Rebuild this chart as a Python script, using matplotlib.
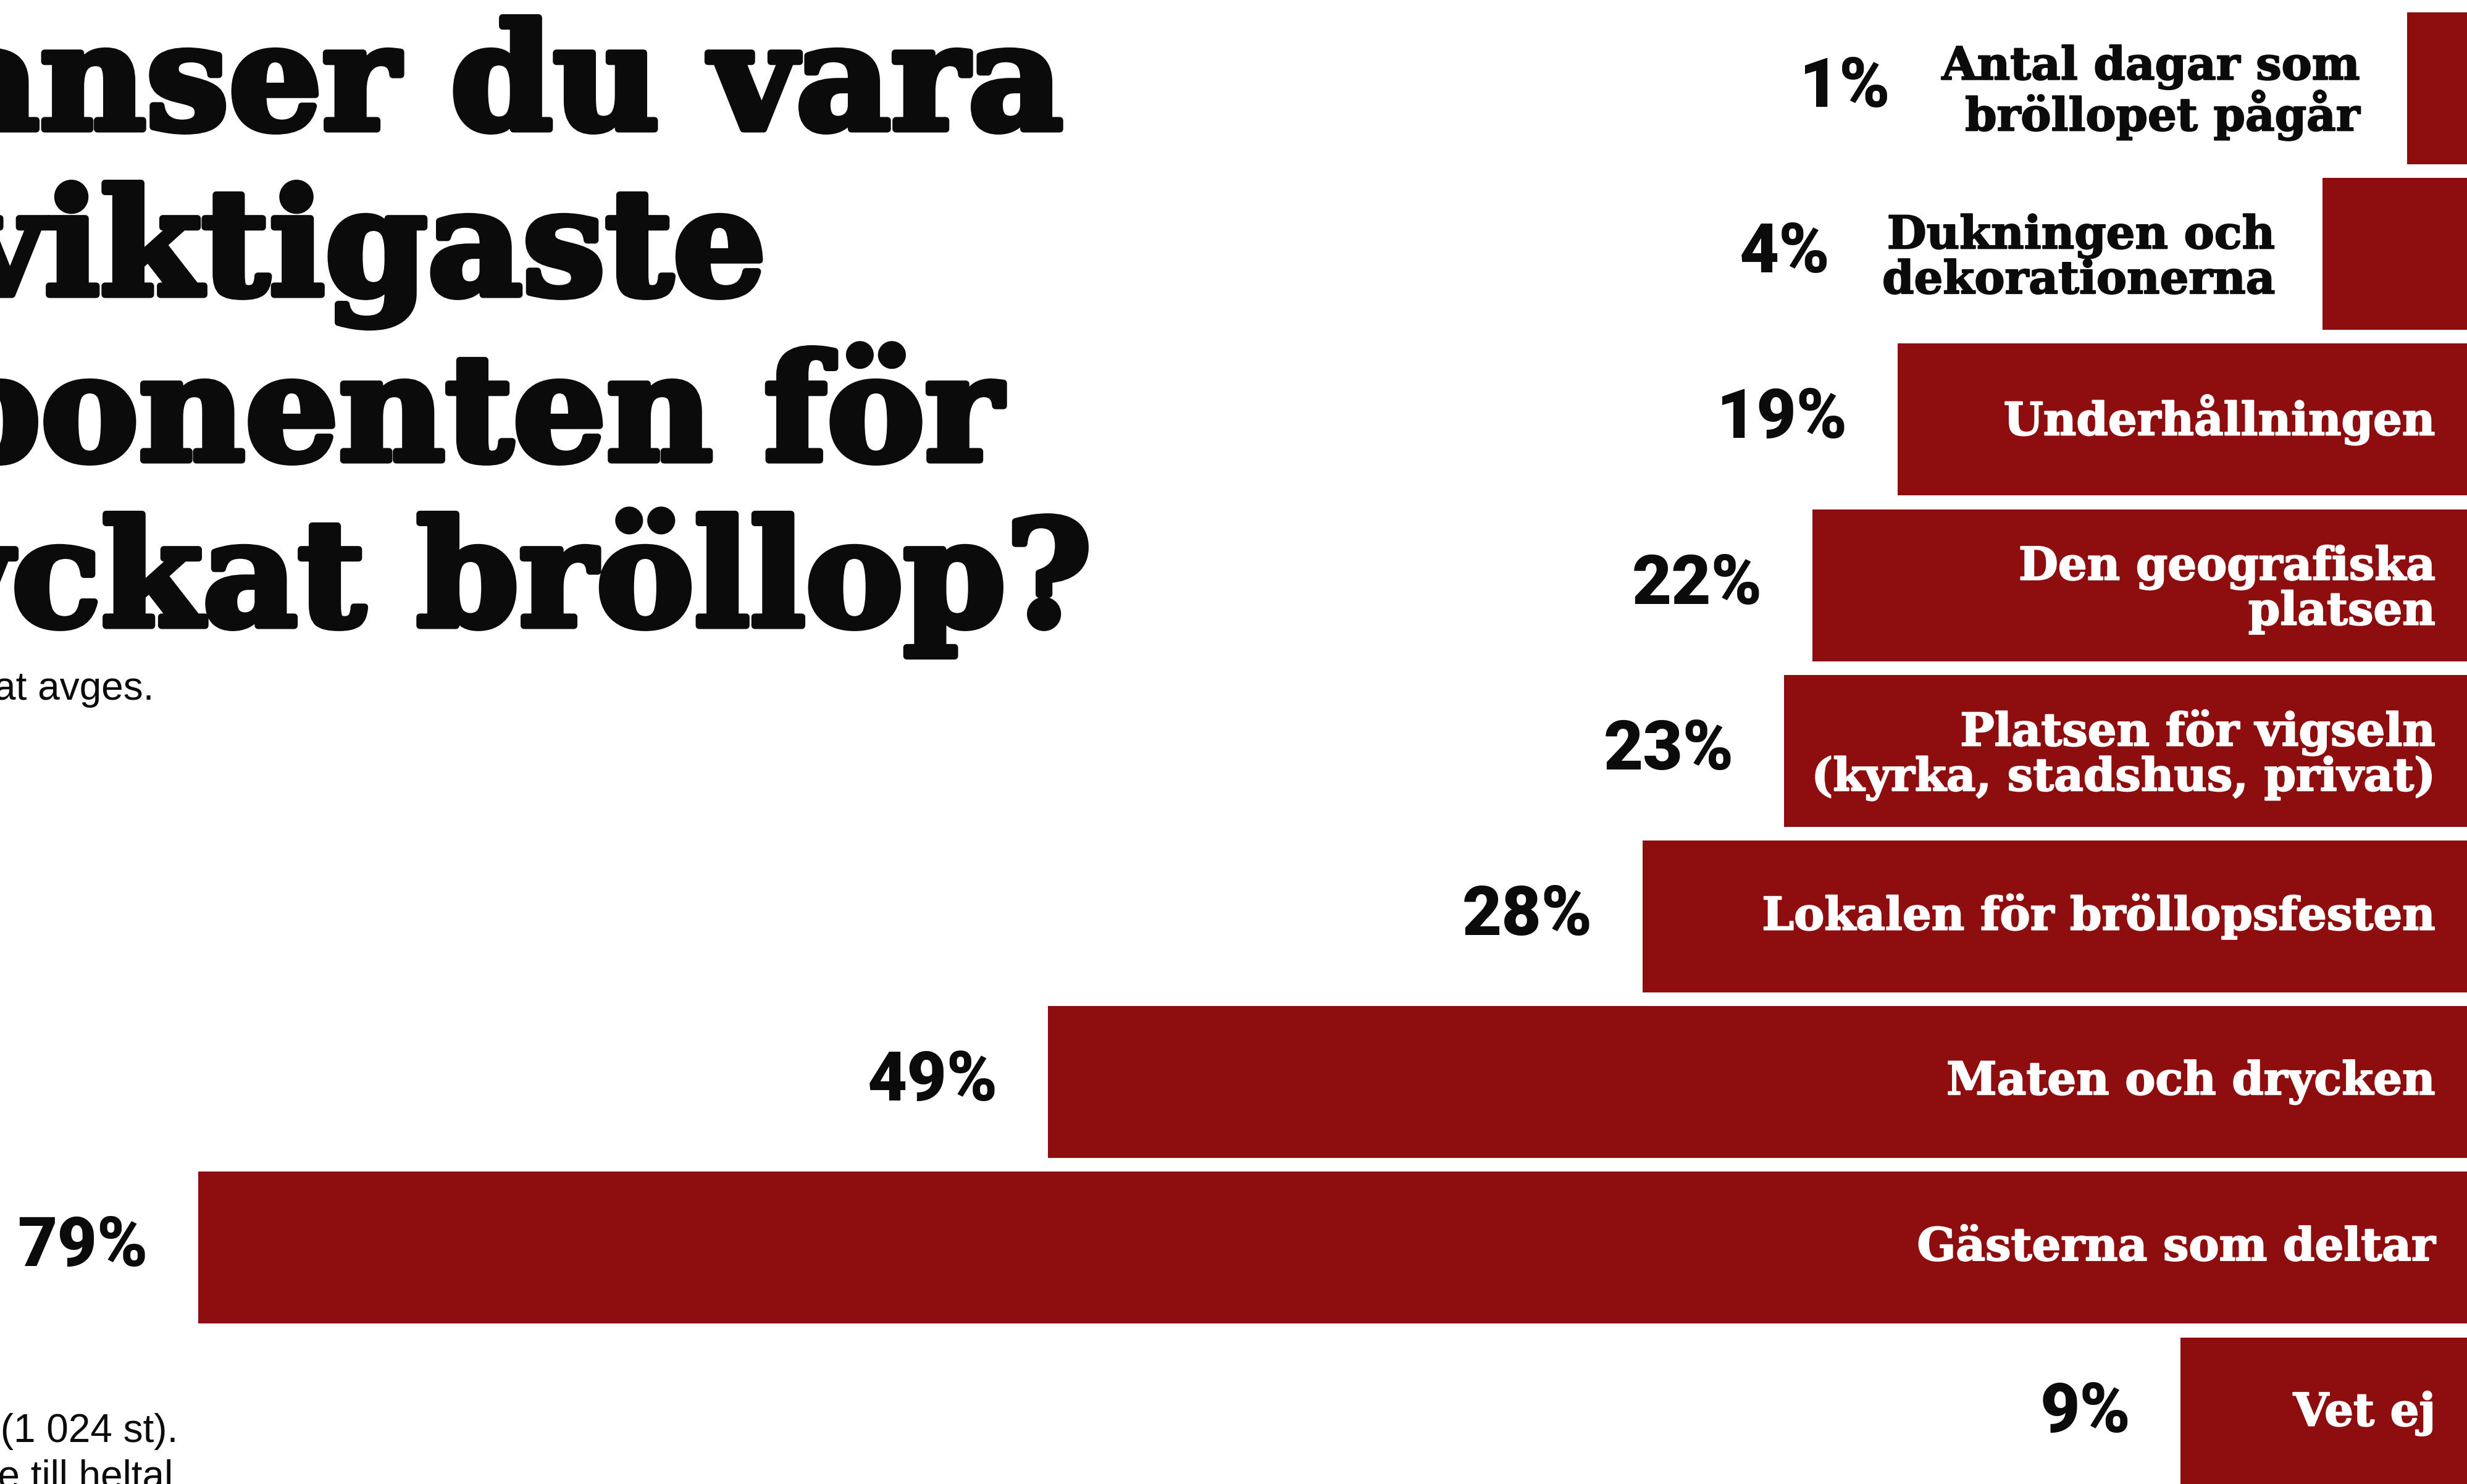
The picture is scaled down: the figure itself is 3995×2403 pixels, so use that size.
import matplotlib
matplotlib.use("Agg")
import matplotlib.pyplot as plt
import matplotlib.patheffects as pe
from matplotlib.transforms import ScaledTranslation, IdentityTransform

# ---------------- data ----------------
categories = [
    "Antal dagar som\nbröllopet pågår",
    "Dukningen och\ndekorationerna",
    "Underhållningen",
    "Den geografiska\nplatsen",
    "Platsen för vigseln\n(kyrka, stadshus, privat)",
    "Lokalen för bröllopsfesten",
    "Maten och drycken",
    "Gästerna som deltar",
    "Vet ej",
]
values = [1, 4, 19, 22, 23, 28, 49, 79, 9]
value_labels = ["1%", "4%", "19%", "22%", "23%", "28%", "49%", "79%", "9%"]

title_lines = ["Vad anser du vara", "den viktigaste", "komponenten för", "ett lyckat bröllop?"]
subtitle = "Flera svar har kunnat avges."
footnotes = ["Källa: Undersökning bland gifta svenskar (1 024 st).",
             "Siffrorna är avrundade till heltal"]

# ---------------- style ----------------
W, H, DPI = 3995, 2403, 100
BAR = "#8E0D0F"
INK = "#0b0b0b"
SERIF = ["DejaVu Serif"]
HEAVY = ["Roboto", "DejaVu Sans"]
NOTE = ["Liberation Sans", "DejaVu Sans"]

fig = plt.figure(figsize=(W / DPI, H / DPI), dpi=DPI, facecolor="white")
ax = fig.add_axes([0, 0, 1, 1])
ax.set_facecolor("white")

pad = 1.5
ax.barh(range(len(values)), [v + pad for v in values], left=-pad,
        height=0.917, color=BAR, linewidth=0)
ax.set_xlim(86.0, -1.112)
ax.set_ylim(8.4265, -0.5332)
ax.axis("off")

renderer = fig.canvas.get_renderer()
cat_size = 53
pct_size = 80

for i, (cat, v, lab) in enumerate(zip(categories, values, value_labels)):
    dy = -7 / DPI if "\n" in cat else 0
    t = ax.text(0, i, cat, ha="right", va="center", multialignment="right",
                color="white", fontsize=cat_size, family=SERIF, fontweight="bold",
                linespacing=0.98,
                transform=ax.transData + ScaledTranslation(0, dy, fig.dpi_scale_trans),
                path_effects=[pe.withStroke(linewidth=1.5, foreground="white")])
    ext = t.get_window_extent(renderer)
    bar_px = ax.transData.transform((-1.112, i))[0] - ax.transData.transform((v, i))[0]
    if ext.width + 60 > bar_px:
        t.remove()
        off = ScaledTranslation(-76 / DPI, dy, fig.dpi_scale_trans)
        t = ax.text(v, i, cat, ha="right", va="center", multialignment="right",
                    color=INK, fontsize=cat_size, family=SERIF, fontweight="bold",
                    linespacing=0.98, transform=ax.transData + off,
                    path_effects=[pe.withStroke(linewidth=1.5, foreground=INK)])
        ext = t.get_window_extent(renderer)
        yc = ax.transData.transform((0, i))[1]
        ax.text(ext.x0 - 84, yc, lab, ha="right", va="center", color=INK,
                fontsize=pct_size, family=HEAVY, fontweight=900,
                transform=IdentityTransform())
    else:
        off = ScaledTranslation(-81 / DPI, 0, fig.dpi_scale_trans)
        ax.text(v, i, lab, ha="right", va="center", color=INK,
                fontsize=pct_size, family=HEAVY, fontweight=900,
                transform=ax.transData + off)

# title (cropped on the left, as in the reference)
title_right = [1722, 1241, 1623, 1768]
title_base = [209, 477, 745, 1013]
for line, xr, yb in zip(title_lines, title_right, title_base):
    fig.text(xr / W, 1 - yb / H, line, ha="right", va="baseline", color=INK,
             fontsize=171, family=SERIF, fontweight="bold",
             path_effects=[pe.withStroke(linewidth=8, foreground=INK)])

fig.text(250 / W, 1 - 1133 / H, subtitle, ha="right", va="baseline",
         color=INK, fontsize=46, family=NOTE)
fig.text(288 / W, 1 - 2335 / H, footnotes[0], ha="right", va="baseline",
         color=INK, fontsize=46, family=NOTE)
fig.text(280 / W, 1 - 2410 / H, footnotes[1], ha="right", va="baseline",
         color=INK, fontsize=46, family=NOTE)

fig.savefig("out.png", dpi=DPI, facecolor="white")
